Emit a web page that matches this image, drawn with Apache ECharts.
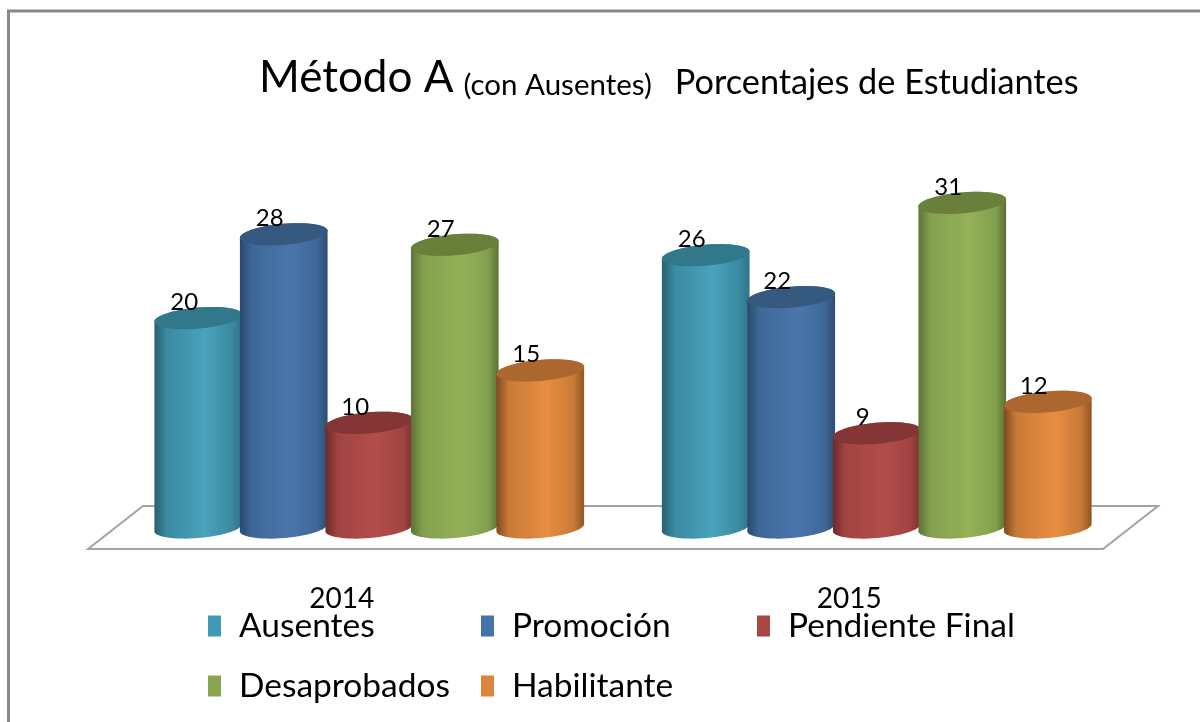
<!DOCTYPE html>
<html><head><meta charset="utf-8">
<style>html,body{margin:0;padding:0;background:#fff}#c{width:1200px;height:722px}</style>
<script src="https://cdn.jsdelivr.net/npm/echarts@6/dist/echarts.min.js"></script>
</head><body><div id="c"></div>
<script>
const years = ['2014', '2015'];
const seriesNames = ['Ausentes', 'Promoción', 'Pendiente Final', 'Desaprobados', 'Habilitante'];
const ausentes = [20, 26];
const promocion = [28, 22];
const pendienteFinal = [10, 9];
const desaprobados = [27, 31];
const habilitante = [15, 12];
const seriesValues = [ausentes, promocion, pendienteFinal, desaprobados, habilitante];

const legendColors = ['#3F9AB3', '#4572A7', '#AA4643', '#89A54E', '#DB843D'];
const topColors = ['#31788B', '#36597F', '#843535', '#6A803A', '#AC672F'];
const sideStops = [
  ['#27606F', '#3A8AA1', '#49A3BC', '#2F7387'],
  ['#294A6C', '#3F6898', '#4A76AD', '#2D4E73'],
  ['#6E2A2A', '#A14442', '#B34D4B', '#7C3030'],
  ['#5E7237', '#83A04E', '#94B158', '#5C7033'],
  ['#7D4A20', '#C87A38', '#E98D42', '#8F5524']
];
const FONT = 'Lato, "Open Sans", sans-serif';
const DEPTH_X = 55, DEPTH_Y = 43;
const BAND_STEP = 0.1685, BAR_W = 88, ELL_B = 10.5, TILT = 5 * Math.PI / 180;

function ellipsePts(cx, cy, a, b, from, to, n) {
  const pts = [];
  for (let i = 0; i <= n; i++) {
    const t = from + (to - from) * i / n;
    const x = a * Math.cos(t), y = b * Math.sin(t);
    pts.push([cx + x * Math.cos(TILT) + y * Math.sin(TILT), cy - x * Math.sin(TILT) + y * Math.cos(TILT)]);
  }
  return pts;
}

function cylinder(si) {
  return function (params, api) {
    const cat = api.value(0), val = api.value(1);
    const band = api.size([1, 0])[0];
    const top = api.coord([cat, val]);
    const base = api.coord([cat, 0]);
    const cx = top[0] + DEPTH_X / 2 + (si - 2) * BAND_STEP * band;
    const ty = top[1] - DEPTH_Y / 2, by = base[1] - DEPTH_Y / 2;
    const a = BAR_W / 2;
    const s = sideStops[si];
    const full = ellipsePts(cx, ty, a, ELL_B, Math.PI, 2 * Math.PI, 20)
      .concat(ellipsePts(cx, by, a, ELL_B, 0, Math.PI, 30));
    const grad = new echarts.graphic.LinearGradient(0, 0, 1, 0, [
      { offset: 0, color: s[0] }, { offset: 0.14, color: s[1] },
      { offset: 0.58, color: s[2] }, { offset: 0.88, color: s[1] }, { offset: 1, color: s[3] }
    ]);
    return {
      type: 'group',
      children: [
        { type: 'polygon', shape: { points: full }, style: { fill: grad } },
        { type: 'polygon', shape: { points: ellipsePts(cx, ty, a, ELL_B, 0, 2 * Math.PI, 48) }, style: { fill: topColors[si] } },
        { type: 'text', x: cx - 14, y: ty - 16, style: { text: String(val), fill: '#000', font: '24px ' + FONT, align: 'center', verticalAlign: 'middle' } }
      ]
    };
  };
}

const series = [{
  type: 'custom', name: 'floor', silent: true, data: [[0, 0]], z: 1,
  renderItem(params) {
    const g = params.coordSys, b = g.y + g.height;
    return { type: 'polygon', shape: { points: [[g.x, b], [g.x + DEPTH_X, b - DEPTH_Y], [g.x + g.width + DEPTH_X, b - DEPTH_Y], [g.x + g.width, b]] },
      style: { fill: '#fff', stroke: '#A3A3A3', lineWidth: 2 } };
  },
  encode: { x: 0, y: 1 }
}];
seriesNames.forEach((n, si) => series.push({
  type: 'custom', name: n, z: 2 + si, silent: true,
  itemStyle: { color: legendColors[si] },
  renderItem: cylinder(si),
  encode: { x: 0, y: 1 },
  data: seriesValues[si].map((v, i) => [i, v])
}));

const legendBase = { orient: 'vertical', top: 609, padding: 0, icon: 'rect', itemWidth: 13, itemHeight: 21, itemGap: 26, selectedMode: false,
  textStyle: { fontFamily: FONT, fontSize: 33.5, color: '#000', padding: [0, 0, 0, 13], lineHeight: 30 } };

const chart = echarts.init(document.getElementById('c'), null, { renderer: 'canvas' });
chart.setOption({
  animation: false,
  backgroundColor: '#fff',
  color: legendColors,
  title: {
    left: 259, top: 56, padding: 0,
    text: '{a|Método A}{b|(con Ausentes)}{c|Porcentajes de Estudiantes}',
    textStyle: { fontWeight: 'normal', rich: {
      a: { fontFamily: FONT, fontSize: 44, fontWeight: 'normal', color: '#000', verticalAlign: 'bottom' },
      b: { fontFamily: FONT, fontSize: 29.5, fontWeight: 'normal', color: '#000', verticalAlign: 'bottom', padding: [0, 0, 0, 10] },
      c: { fontFamily: FONT, fontSize: 34.3, fontWeight: 'normal', color: '#000', verticalAlign: 'bottom', padding: [0, 0, 0, 23] }
    } }
  },
  legend: [
    Object.assign({}, legendBase, { left: 208, data: [seriesNames[0], seriesNames[3]] }),
    Object.assign({}, legendBase, { left: 481, data: [seriesNames[1], seriesNames[4]] }),
    Object.assign({}, legendBase, { left: 757, data: [seriesNames[2]] })
  ],
  grid: { left: 88, width: 1015, top: 182.5, height: 366.5 },
  xAxis: { type: 'category', data: years, axisLine: { show: false }, axisTick: { show: false },
    axisLabel: { margin: 36, fontFamily: FONT, fontSize: 28, color: '#000' } },
  yAxis: { type: 'value', min: 0, max: 35, show: false },
  series,
  graphic: [{ type: 'polyline', silent: true, shape: { points: [[8.5, 722], [8.5, 11], [1200, 11]] }, style: { stroke: '#888', lineWidth: 3, fill: null } }]
});
</script></body></html>
